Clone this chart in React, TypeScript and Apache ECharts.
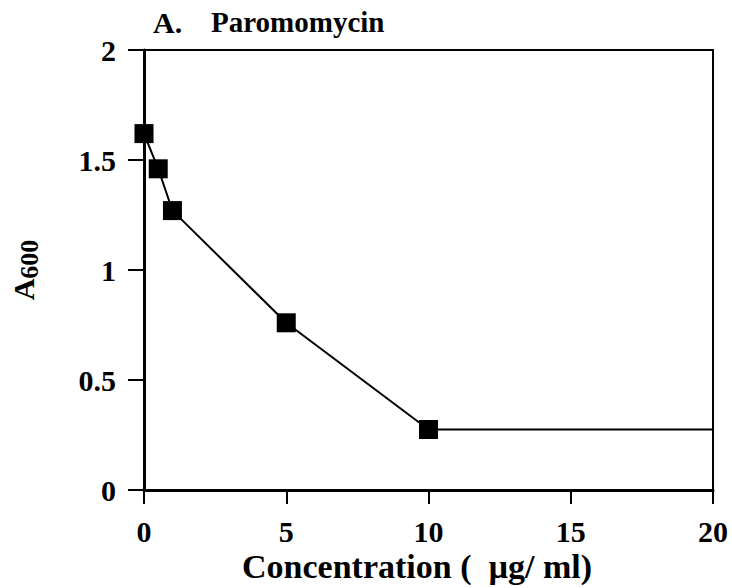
import React, { useEffect, useRef } from "react";
import * as echarts from "echarts";

const concentrations = [0, 0.5, 1, 5, 10, 20];
const a600 = [1.62, 1.46, 1.27, 0.76, 0.275, 0.275];
const markerShown = [true, true, true, true, true, false];
const xTicks = [0, 5, 10, 15, 20];
const yTicks = [0, 0.5, 1, 1.5, 2];

const FONT = "Liberation Serif";

export default function App() {
  const ref = useRef<HTMLDivElement>(null);
  useEffect(() => {
    if (!ref.current) return;
    const chart = echarts.init(ref.current, undefined, { renderer: "svg" });
    const data = concentrations.map((c, i) => ({
      value: [c, a600[i]],
      symbolSize: markerShown[i] ? 19 : 0,
    }));
    chart.setOption({
      animation: false,
      backgroundColor: "#fff",
      grid: {
        left: 142,
        right: 19,
        top: 50,
        bottom: 98,
        show: true,
        borderColor: "#000",
        borderWidth: 2,
      },
      graphic: [
        {
          type: "text",
          x: 153,
          y: 22,
          style: {
            text: "A.",
            fontFamily: FONT,
            fontWeight: "bold",
            fontSize: 30,
            fill: "#000",
            verticalAlign: "middle",
          },
        },
        {
          type: "text",
          x: 211,
          y: 22,
          style: {
            text: "Paromomycin",
            fontFamily: FONT,
            fontWeight: "bold",
            fontSize: 29,
            fill: "#000",
            verticalAlign: "middle",
          },
        },
        {
          type: "text",
          x: 242,
          y: 566,
          style: {
            text: "Concentration (  µg/ ml)",
            fontFamily: FONT,
            fontWeight: "bold",
            fontSize: 34,
            fill: "#000",
            verticalAlign: "middle",
          },
        },
      ],
      xAxis: {
        type: "value",
        min: 0,
        max: 20,
        interval: 5,
        axisLine: { show: true, lineStyle: { color: "#000", width: 3 } },
        axisTick: { show: true, length: 14, lineStyle: { color: "#000", width: 2 } },
        axisLabel: {
          fontFamily: FONT,
          fontWeight: "bold",
          fontSize: 30,
          color: "#000",
          margin: 26,
          formatter: (v: number) => (xTicks.includes(v) ? String(v) : ""),
        },
        splitLine: { show: false },
      },
      yAxis: {
        type: "value",
        min: 0,
        max: 2,
        interval: 0.5,
        name: "{a|A}{s|600}",
        nameLocation: "middle",
        nameRotate: 90,
        nameGap: 102,
        nameTextStyle: {
          rich: {
            a: { fontFamily: FONT, fontWeight: "bold", fontSize: 30, color: "#000" },
            s: { fontFamily: FONT, fontWeight: "bold", fontSize: 26, color: "#000", padding: [12, 0, 0, 0] },
          },
        },
        axisLine: { show: true, lineStyle: { color: "#000", width: 3 } },
        axisTick: { show: true, inside: false, length: 16, lineStyle: { color: "#000", width: 2 } },
        axisLabel: {
          fontFamily: FONT,
          fontWeight: "bold",
          fontSize: 30,
          color: "#000",
          margin: 28,
          formatter: (v: number) => (yTicks.includes(v) ? String(v) : ""),
        },
        splitLine: { show: false },
      },
      series: [
        {
          type: "line",
          data,
          symbol: "rect",
          showAllSymbol: true,
          itemStyle: { color: "#000" },
          lineStyle: { color: "#000", width: 2 },
          clip: false,
        },
      ],
    });
    return () => chart.dispose();
  }, []);
  return (
    <div
      ref={ref}
      style={{ position: "absolute", left: 0, top: 0, width: 732, height: 588 }}
    />
  );
}
